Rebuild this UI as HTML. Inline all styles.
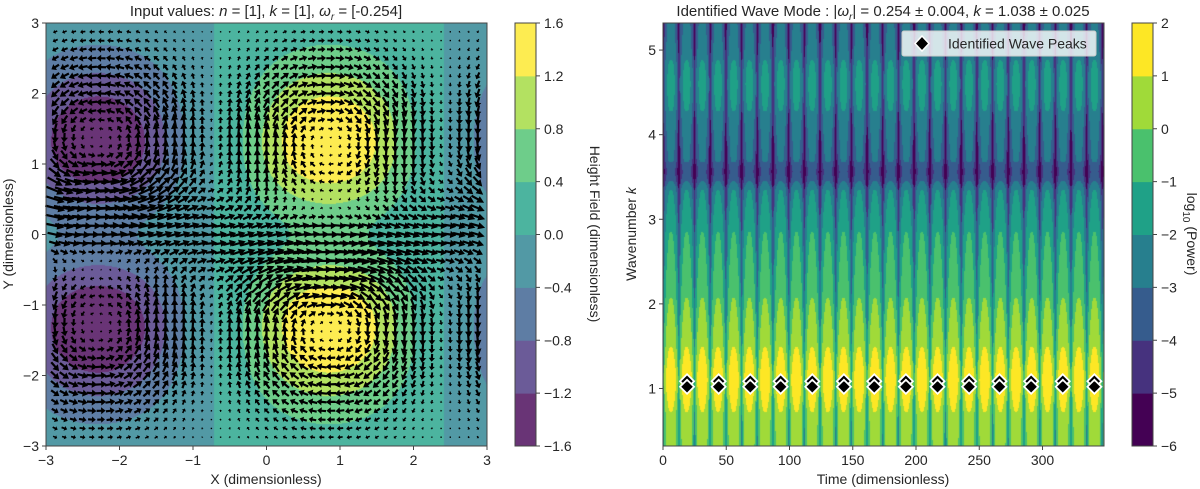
<!DOCTYPE html>
<html><head><meta charset="utf-8"><style>
html,body{margin:0;padding:0;background:#fff;width:1200px;height:489px;overflow:hidden;}
#wrap{position:relative;width:1200px;height:489px;}
canvas{position:absolute;}
svg{position:absolute;left:0;top:0;}
text{font-family:"Liberation Sans",sans-serif;fill:#262626;}
</style></head><body>
<div id="wrap">
<canvas id="cl" width="441" height="423" style="left:46px;top:23px"></canvas>
<canvas id="cr" width="441" height="423" style="left:663px;top:23px"></canvas>
<svg id="sv" width="1200" height="489" xmlns="http://www.w3.org/2000/svg"></svg>
</div>
<script>
// ---- data ----
const leftLevels = [-1.6,-1.2,-0.8,-0.4,0.0,0.4,0.8,1.2,1.6];
const leftXTicks = [-3,-2,-1,0,1,2,3];
const leftYTicks = [-3,-2,-1,0,1,2,3];
const rightLevels = [-6,-5,-4,-3,-2,-1,0,1,2];
const timeTicks = [0,50,100,150,200,250,300];
const kTicks = [1,2,3,4,5];
const peakTimes = [19,44,69,93,118,143,167,192,217,242,266,291,316,341];
const peakK = [1.038,1.038,1.038,1.038,1.038,1.038,1.038,1.038,1.038,1.038,1.038,1.038,1.038,1.038];
const envK = [0.2,0.72,1.1,1.49,2.07,2.85,3.35,3.45,3.56,3.72,4.6,5.26,5.5];
const envG = [0.8,1.0,1.9,1.0,0.0,-1.0,-2.0,-3.0,-3.6,-2.8,-1.6,-2.6,-3.0];
const wavePeriod = 12.4, wavePhase = 6.3;

const NS="http://www.w3.org/2000/svg";
const sv=document.getElementById('sv');
function el(tag,attrs,parent){const e=document.createElementNS(NS,tag);for(const k in attrs)e.setAttribute(k,attrs[k]);(parent||sv).appendChild(e);return e;}
const VIR=[[68,1,84],[70,50,126],[54,92,141],[39,127,142],[31,161,135],[74,193,109],[160,218,57],[253,231,37]];
function vir(i){return VIR[Math.max(0,Math.min(7,i))];}
function blend(c,a){return c.map(v=>Math.round(v*a+255*(1-a)));}
function rgb(c){return 'rgb('+c.join(',')+')';}

// ---- left axes ----
const L={x0:46,x1:487,y0:23,y1:446};
const lx=v=>L.x0+(v+3)/6*(L.x1-L.x0);
const ly=v=>L.y1-(v+3)/6*(L.y1-L.y0);
function hField(x,y){const c=Math.cos(x-0.85);return (0.5+2*y*y)*Math.exp(-y*y/2)*Math.sign(c)*Math.pow(Math.abs(c),1.5);}
(function(){
 const c=document.getElementById('cl').getContext('2d');const W=441,H=423;const im=c.createImageData(W,H);
 for(let j=0;j<H;j++)for(let i=0;i<W;i++){
  const x=-3+(i+0.5)/W*6,y=3-(j+0.5)/H*6;const h=hField(x,y);
  let b=Math.floor((h-leftLevels[0])/0.4);b=Math.max(0,Math.min(7,b));
  const col=blend(vir(b),0.8);const p=(j*W+i)*4;im.data[p]=col[0];im.data[p+1]=col[1];im.data[p+2]=col[2];im.data[p+3]=255;}
 c.putImageData(im,0,0);
})();
// quiver
(function(){
 let d='';const step=0.125;
 for(let gy=-2.875;gy<=2.9;gy+=step)for(let gx=-2.875;gx<=2.9;gx+=step){
  const e=0.001;
  const dhdx=(hField(gx+e,gy)-hField(gx-e,gy))/(2*e);
  const dhdy=(hField(gx,gy+e)-hField(gx,gy-e))/(2*e);
  let u=-dhdy*0.9+1.6*Math.exp(-gy*gy/(2*0.55*0.55))*(0.75+0.25*Math.abs(Math.cos(gx-0.85)));
  let v=dhdx*0.9;
  const sc=10;let px=u*sc,py=-v*sc;const len=Math.hypot(px,py);
  const cx=lx(gx),cy=ly(gy);
  if(len<1.4){d+='M'+(cx-0.7).toFixed(1)+' '+(cy-0.7).toFixed(1)+'h1.4v1.4h-1.4z';continue;}
  const ux=px/len,uy=py/len,nx=-uy,ny=ux;
  const tx=cx-px/2,ty=cy-py/2,hx=cx+px/2,hy=cy+py/2;
  const hw=Math.min(3.6,0.3*len+0.8),sw=Math.min(1.1,0.1*len+0.3);
  const hl=Math.min(7,len*0.5);
  const bx=hx-ux*hl,by=hy-uy*hl;
  const pts=[[tx+nx*sw,ty+ny*sw],[bx+nx*sw,by+ny*sw],[bx+nx*hw,by+ny*hw],[hx,hy],[bx-nx*hw,by-ny*hw],[bx-nx*sw,by-ny*sw],[tx-nx*sw,ty-ny*sw]];
  d+='M'+pts.map(p=>p[0].toFixed(1)+' '+p[1].toFixed(1)).join('L')+'z';
 }
 const q=el('path',{d:d,fill:'#000'});
 
 
})();
el('rect',{x:L.x0,y:L.y0,width:L.x1-L.x0,height:L.y1-L.y0,fill:'none',stroke:'#444','stroke-width':1,});
leftXTicks.forEach(v=>{const x=lx(v);el('line',{x1:x,x2:x,y1:L.y1,y2:L.y1+4,stroke:'#444'});
 const t=el('text',{x:x,y:L.y1+19,'text-anchor':'middle','font-size':14});t.textContent=(v<0?'\u2212'+(-v):v);
 });
leftYTicks.forEach(v=>{const y=ly(v);el('line',{x1:L.x0-4,x2:L.x0,y1:y,y2:y,stroke:'#444'});
 const t=el('text',{x:L.x0-7,y:y+5,'text-anchor':'end','font-size':14});t.textContent=(v<0?'\u2212'+(-v):v);
 });
let t=el('text',{x:266,y:484,'text-anchor':'middle','font-size':14,});t.textContent='X (dimensionless)';
t=el('text',{x:0,y:0,'text-anchor':'middle','font-size':14,transform:'translate(13,234) rotate(-90)',});t.textContent='Y (dimensionless)';
t=el('text',{x:266,y:16,'text-anchor':'middle','font-size':15,});
t.innerHTML='Input values: <tspan font-style="italic">n</tspan> = [1], <tspan font-style="italic">k</tspan> = [1], <tspan font-style="italic">ω</tspan><tspan font-style="italic" font-size="10" dy="4">r</tspan><tspan dy="-4"> = [-0.254]</tspan>';
// left colorbar
const CB={x0:515,x1:536};
for(let i=0;i<8;i++){const ya=L.y1-(i+1)/8*(L.y1-L.y0),yb=L.y1-i/8*(L.y1-L.y0);
 el('rect',{x:CB.x0,y:ya,width:CB.x1-CB.x0,height:yb-ya+0.5,fill:rgb(blend(vir(i),0.8)),});}
el('rect',{x:CB.x0,y:L.y0,width:CB.x1-CB.x0,height:L.y1-L.y0,fill:'none',stroke:'#444',});
leftLevels.forEach((v,i)=>{const y=L.y1-i/8*(L.y1-L.y0);el('line',{x1:CB.x1,x2:CB.x1+4,y1:y,y2:y,stroke:'#444'});
 const tt=el('text',{x:CB.x1+8,y:y+5,'font-size':14});tt.textContent=(v<0?'\u2212'+(-v).toFixed(1):v.toFixed(1));
 });
t=el('text',{x:0,y:0,'text-anchor':'middle','font-size':14,transform:'translate(590,234) rotate(90)',});t.textContent='Height Field (dimensionless)';

// ---- right axes ----
const R={x0:663,x1:1104,y0:23,y1:446,tmax:348.6,kmin:0.32,kmax:5.32};
const rx=v=>R.x0+v/R.tmax*(R.x1-R.x0);
const ry=v=>R.y1-(v-R.kmin)/(R.kmax-R.kmin)*(R.y1-R.y0);
function envelope(k){
 if(k<=envK[0])return envG[0];if(k>=envK[envK.length-1])return envG[envG.length-1];
 for(let i=0;i<envK.length-1;i++)if(k<=envK[i+1]){const f=(k-envK[i])/(envK[i+1]-envK[i]);const s=(1-Math.cos(Math.PI*f))/2;return envG[i]+(envG[i+1]-envG[i])*(0.5*f+0.5*s);}
 return envG[envG.length-1];
}
(function(){
 const c=document.getElementById('cr').getContext('2d');const W=441,H=423;const im=c.createImageData(W,H);
 const tf=[];for(let i=0;i<W;i++){const tt=(i+0.5)/W*R.tmax;const sn=Math.abs(Math.sin(Math.PI*(tt-wavePhase)/wavePeriod));tf.push(-1.6*Math.pow(sn,4)-1.4*Math.pow(sn,60));}
 for(let j=0;j<H;j++){const k=R.kmax-(j+0.5)/H*(R.kmax-R.kmin);const g=envelope(k);
  for(let i=0;i<W;i++){const v=g+tf[i];let b=Math.floor(v-rightLevels[0]);b=Math.max(0,Math.min(7,b));
   const col=vir(b);const p=(j*W+i)*4;im.data[p]=col[0];im.data[p+1]=col[1];im.data[p+2]=col[2];im.data[p+3]=255;}}
 c.putImageData(im,0,0);
})();
peakTimes.forEach((tv,i)=>{const x=rx(tv),y=ry(peakK[i]);const s=7;
 [[y-4],[y+1.5]].forEach(([yy])=>{
  const dm=el('path',{d:`M${x} ${yy-s}L${x+s} ${yy}L${x} ${yy+s}L${x-s} ${yy}z`,fill:'#000',stroke:'#fff','stroke-width':1.8});
  
  });});
el('rect',{x:R.x0,y:R.y0,width:R.x1-R.x0,height:R.y1-R.y0,fill:'none',stroke:'#444',});
timeTicks.forEach(v=>{const x=rx(v);el('line',{x1:x,x2:x,y1:R.y1,y2:R.y1+4,stroke:'#444'});
 const tt=el('text',{x:x,y:R.y1+19,'text-anchor':'middle','font-size':14});tt.textContent=v;
 });
kTicks.forEach(v=>{const y=ry(v);el('line',{x1:R.x0-4,x2:R.x0,y1:y,y2:y,stroke:'#444'});
 const tt=el('text',{x:R.x0-7,y:y+5,'text-anchor':'end','font-size':14});tt.textContent=v;
 });
t=el('text',{x:883,y:484,'text-anchor':'middle','font-size':14,});t.textContent='Time (dimensionless)';
t=el('text',{x:0,y:0,'text-anchor':'middle','font-size':14,transform:'translate(636,234) rotate(-90)',});
t.innerHTML='Wavenumber <tspan font-style="italic">k</tspan>';
t=el('text',{x:883,y:16,'text-anchor':'middle','font-size':15,});
t.innerHTML='Identified Wave Mode : |<tspan font-style="italic">ω</tspan><tspan font-style="italic" font-size="10" dy="4">r</tspan><tspan dy="-4">| = 0.254 ± 0.004, </tspan><tspan font-style="italic">k</tspan> = 1.038 ± 0.025';
// legend
const lg=el('g',{});
el('rect',{x:902,y:31,width:194,height:25,rx:2,fill:'rgba(255,255,255,0.8)',stroke:'#ccc'},lg);
el('path',{d:'M922 36L929 43.5L922 51L915 43.5z',fill:'#000',stroke:'#fff','stroke-width':1.5,},lg);
t=el('text',{x:948,y:48.5,'font-size':14,},lg);t.textContent='Identified Wave Peaks';
// right colorbar
const CR={x0:1132,x1:1153};
for(let i=0;i<8;i++){const ya=R.y1-(i+1)/8*(R.y1-R.y0),yb=R.y1-i/8*(R.y1-R.y0);
 el('rect',{x:CR.x0,y:ya,width:CR.x1-CR.x0,height:yb-ya+0.5,fill:rgb(vir(i)),});}
el('rect',{x:CR.x0,y:R.y0,width:CR.x1-CR.x0,height:R.y1-R.y0,fill:'none',stroke:'#444',});
rightLevels.forEach((v,i)=>{const y=R.y1-i/8*(R.y1-R.y0);el('line',{x1:CR.x1,x2:CR.x1+4,y1:y,y2:y,stroke:'#444'});
 const tt=el('text',{x:CR.x1+8,y:y+5,'font-size':14});tt.textContent=(v<0?'\u2212'+(-v):v);
 });
t=el('text',{x:0,y:0,'text-anchor':'middle','font-size':14,transform:'translate(1187,234) rotate(90)',});
t.innerHTML='log<tspan font-size="10" dy="4">10</tspan><tspan dy="-4"> (Power)</tspan>';
</script>
</body></html>
